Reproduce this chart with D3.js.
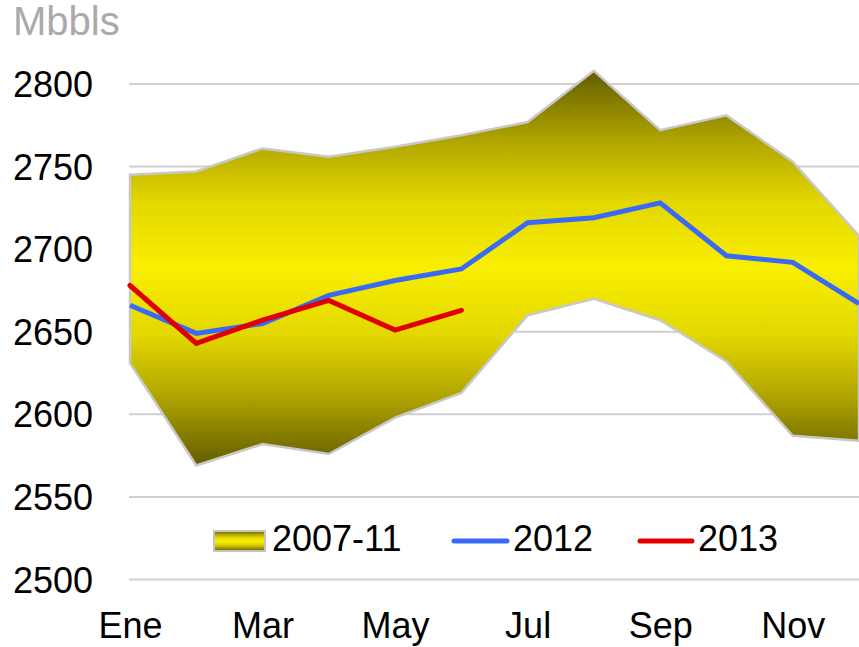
<!DOCTYPE html>
<html>
<head>
<meta charset="utf-8">
<script src="https://cdn.jsdelivr.net/npm/d3@7"></script>
<style>
  html, body { margin: 0; padding: 0; background: #fff; }
  svg { display: block; font-family: "Liberation Sans", Arial, sans-serif; }
</style>
</head>
<body>
<svg id="chart" width="859" height="647"></svg>
<script>
const months = ["Ene","Feb","Mar","Abr","May","Jun","Jul","Ago","Sep","Oct","Nov","Dic"];
const tickMonths = ["Ene","Mar","May","Jul","Sep","Nov"];
const yTicks = [2500, 2550, 2600, 2650, 2700, 2750, 2800];
const bandUpper = [2745, 2747, 2761, 2756, 2762, 2769, 2777, 2808, 2772, 2781, 2753, 2708];
const bandLower = [2631, 2569, 2582, 2576, 2598, 2613, 2660, 2670, 2657, 2632, 2587, 2584];
const s2012 = [2666, 2649, 2655, 2672, 2681, 2688, 2716, 2719, 2728, 2696, 2692, 2667];
const s2013 = [2678, 2643, 2657, 2669, 2651, 2663];
const legendLabels = ["2007-11", "2012", "2013"];
const unitLabel = "Mbbls";

const svg = d3.select("#chart");
const x = d3.scalePoint().domain(months).range([130, 859]).padding(0);
const y = d3.scaleLinear().domain([2500, 2800]).range([579.5, 84]);

const defs = svg.append("defs");
const grad = defs.append("linearGradient").attr("id", "bandGrad")
  .attr("x1", 0).attr("y1", 0).attr("x2", 0).attr("y2", 1);
[[0, "#635d00"], [0.18, "#b2a600"], [0.33, "#e2d700"], [0.5, "#f9ef00"],
 [0.67, "#e2d700"], [0.82, "#b2a600"], [1, "#635d00"]].forEach(([o, c]) =>
  grad.append("stop").attr("offset", o).attr("stop-color", c));

// gridlines
svg.append("g").selectAll("line").data(yTicks).join("line")
  .attr("x1", 129).attr("x2", 859)
  .attr("y1", d => y(d)).attr("y2", d => y(d))
  .attr("stroke", "#d0d0d0").attr("stroke-width", 2);

// y axis labels
const yAxis = d3.axisLeft(y).tickValues(yTicks).tickSize(0).tickPadding(0).tickFormat(d3.format("d"));
const gy = svg.append("g").attr("transform", "translate(93,0)").call(yAxis);
gy.select(".domain").remove();
gy.selectAll("text").attr("font-size", 36).attr("fill", "#000")
  .attr("font-family", "'Liberation Sans', Arial, sans-serif").attr("dy", "0.35em");

// x axis labels
const xAxis = d3.axisBottom(x).tickValues(tickMonths).tickSize(0).tickPadding(0);
const gx = svg.append("g").attr("transform", "translate(0,612)").call(xAxis);
gx.select(".domain").remove();
gx.selectAll("text").attr("font-size", 36).attr("fill", "#000")
  .attr("font-family", "'Liberation Sans', Arial, sans-serif").attr("dy", "0.71em");

// band
const bandData = months.map((m, i) => ({m, lo: bandLower[i], hi: bandUpper[i]}));
const area = d3.area().x(d => x(d.m)).y0(d => y(d.lo)).y1(d => y(d.hi));
svg.append("path").datum(bandData).attr("d", area)
  .attr("fill", "url(#bandGrad)").attr("stroke", "#c8c8c8").attr("stroke-width", 2.5)
  .attr("stroke-linejoin", "miter");

// lines
const line = d3.line().x(d => x(d.m)).y(d => y(d.v));
svg.append("path").datum(s2012.map((v, i) => ({m: months[i], v})))
  .attr("d", line).attr("fill", "none").attr("stroke", "#3a6af5").attr("stroke-width", 5)
  .attr("stroke-linejoin", "miter");
svg.append("path").datum(s2013.map((v, i) => ({m: months[i], v})))
  .attr("d", line).attr("fill", "none").attr("stroke", "#e00000").attr("stroke-width", 5)
  .attr("stroke-linecap", "round").attr("stroke-linejoin", "miter");

// unit label
svg.append("text").attr("x", 13).attr("y", 35).text(unitLabel)
  .attr("font-size", 40).attr("fill", "#aaaaaa");

// legend
const lg = svg.append("g");
lg.append("rect").attr("x", 214).attr("y", 531).attr("width", 51).attr("height", 20)
  .attr("fill", "url(#bandGrad)").attr("stroke", "#c4c4c4").attr("stroke-width", 2);
lg.append("line").attr("x1", 454).attr("x2", 507).attr("y1", 541).attr("y2", 541)
  .attr("stroke", "#3a6af5").attr("stroke-width", 5).attr("stroke-linecap", "round");
lg.append("line").attr("x1", 640).attr("x2", 692).attr("y1", 541).attr("y2", 541)
  .attr("stroke", "#e00000").attr("stroke-width", 5).attr("stroke-linecap", "round");
const lx = [272, 513, 698];
legendLabels.forEach((t, i) => {
  lg.append("text").attr("x", lx[i]).attr("y", 551).text(t)
    .attr("font-size", 36).attr("fill", "#000");
});
</script>
</body>
</html>
